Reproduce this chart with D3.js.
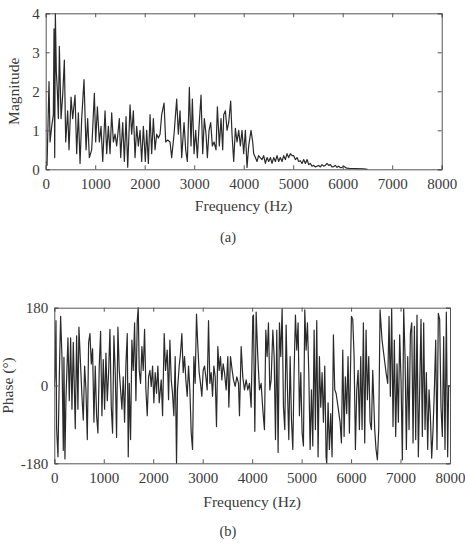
<!DOCTYPE html>
<html><head><meta charset="utf-8">
<script src="https://cdn.jsdelivr.net/npm/d3@7"></script>
<style>
body{margin:0;background:#fff;}
text{font-family:"Liberation Serif","DejaVu Serif",serif;fill:#3a3a3a;}
</style></head>
<body><svg id="c" width="465" height="551"></svg>
<script>
// ---------- data ----------
const xTicks = [0,1000,2000,3000,4000,5000,6000,7000,8000];
const magTicks = [0,1,2,3,4];
const phaseTicks = [-180,0,180];

const magFreq = [0,27,67,88,121,155,168,182,195,215,236,256,276,310,343,377,404,444,471,512,545,593,626,660,694,727,774,815,848,882,929,983,1010,1044,1084,1118,1152,1199,1232,1266,1300,1333,1367,1401,1434,1488,1515,1556,1589,1623,1657,1704,1737,1771,1805,1838,1872,1906,1939,1973,2013,2040,2074,2108,2141,2175,2209,2242,2276,2310,2343,2391,2424,2465,2512,2545,2593,2646,2680,2714,2747,2795,2828,2862,2902,2936,2963,2997,3030,3064,3098,3138,3172,3205,3239,3266,3300,3333,3367,3401,3441,3468,3508,3542,3576,3596,3630,3663,3697,3737,3764,3798,3832,3865,3899,3933,3966,4000,4034,4067,4101,4148,4182,4202,4236,4269,4300,4333,4370,4404,4438,4471,4505,4540,4572,4606,4640,4673,4707,4740,4775,4808,4842,4875,4909,4943,4976,5010,5044,5077,5111,5145,5178,5212,5246,5280,5313,5347,5380,5414,5448,5481,5515,5549,5582,5616,5650,5683,5717,5750,5784,5818,5851,5885,5918,5952,5986,6020,6080,6150,6250,6424,6500];
const magVal = [0.2,0.1,2.25,0.7,1.1,1.4,3.6,0.3,4.0,2.5,2.0,1.3,3.15,1.3,1.9,2.8,0.7,1.5,0.5,1.85,1.3,1.9,0.4,1.45,0.15,1.3,2.3,0.5,1.3,0.3,0.5,1.95,0.7,1.6,0.7,1.1,0.2,1.5,0.4,1.1,0.4,1.45,0.7,0.9,0.6,1.3,0.3,1.2,0.2,1.35,0.05,1.65,0.9,1.5,0.3,1.1,0.6,1.0,0.2,1.1,0.2,1.0,0.15,1.4,0.4,1.3,0.5,0.9,0.8,0.9,1.4,1.7,0.7,0.75,0.7,0.3,0.9,1.8,0.9,1.5,0.3,1.2,0.5,0.2,2.1,0.6,1.8,0.4,1.0,0.3,1.1,1.9,0.4,1.3,0.9,0.3,1.0,1.2,0.6,0.7,0.5,1.6,0.6,1.3,0.5,1.4,1.5,1.0,1.2,1.75,0.9,0.2,1.05,0.7,1.0,0.6,1.0,0.4,1.0,0.05,0.6,1.0,0.7,0.4,0.3,0.2,0.35,0.3,0.25,0.35,0.15,0.3,0.2,0.3,0.15,0.3,0.2,0.35,0.2,0.3,0.2,0.35,0.25,0.4,0.3,0.4,0.35,0.35,0.25,0.3,0.2,0.22,0.15,0.25,0.15,0.25,0.12,0.15,0.08,0.1,0.06,0.08,0.1,0.06,0.12,0.08,0.1,0.15,0.1,0.12,0.06,0.07,0.1,0.05,0.08,0.04,0.05,0.08,0.03,0.02,0.02,0.01,0];

const phFreq = [0,13,34,47,74,101,128,155,182,195,215,236,276,303,330,357,384,424,451,478,498,532,559,586,613,640,667,694,721,748,774,801,828,855,882,909,936,963,990,1017,1044,1071,1098,1125,1152,1178,1205,1232,1259,1286,1313,1340,1367,1394,1421,1448,1475,1495,1515,1542,1569,1596,1623,1650,1677,1697,1717,1744,1771,1798,1825,1852,1879,1906,1933,1960,1987,2013,2040,2067,2094,2121,2162,2189,2222,2249,2283,2310,2337,2364,2390,2417,2444,2471,2491,2525,2552,2579,2606,2633,2660,2687,2714,2741,2768,2795,2822,2848,2875,2902,2929,2956,2983,3010,3037,3064,3091,3118,3145,3172,3199,3226,3253,3279,3306,3333,3360,3387,3414,3441,3475,3508,3529,3562,3596,3623,3657,3690,3724,3744,3778,3811,3845,3879,3912,3946,3980,4013,4027,4054,4081,4114,4148,4182,4215,4249,4276,4303,4330,4357,4384,4418,4445,4472,4498,4525,4552,4579,4606,4633,4660,4687,4714,4741,4768,4795,4822,4848,4875,4902,4929,4956,4983,5010,5037,5064,5091,5118,5145,5172,5199,5226,5253,5279,5306,5333,5360,5387,5414,5441,5468,5495,5508,5535,5562,5589,5616,5643,5670,5697,5737,5778,5805,5832,5859,5885,5912,5939,5966,6007,6034,6061,6088,6115,6142,6168,6195,6222,6249,6276,6303,6330,6357,6384,6411,6438,6478,6505,6532,6559,6586,6626,6667,6707,6741,6768,6794,6821,6848,6875,6902,6929,6956,6983,7010,7037,7064,7091,7118,7145,7172,7199,7226,7253,7280,7307,7333,7360,7387,7414,7441,7468,7495,7522,7549,7576,7603,7630,7657,7684,7711,7737,7764,7791,7818,7845,7872,7899,7926,7953,7973,8000];
const phVal = [0,20,150,-100,-165,20,160,65,-150,65,-170,-30,110,-35,110,-55,100,-100,115,-55,135,45,-25,-80,45,-10,-125,100,120,50,85,-85,45,-70,-110,45,125,-70,60,-55,75,-35,30,130,-50,-110,115,30,-120,135,35,-10,-55,20,-85,50,120,-165,5,-125,105,35,145,-35,150,180,35,5,90,35,130,-10,-70,20,35,-2,45,-40,30,-18,45,-40,13,-70,120,35,82,-33,105,13,-18,-70,67,-180,-10,45,75,120,30,67,13,-25,45,-10,-110,-148,67,5,165,90,30,5,-25,35,45,20,-10,150,5,30,-25,45,20,-95,90,35,67,13,50,30,-10,67,-50,67,35,13,-2,20,5,-70,90,20,-10,13,-10,5,-50,160,163,-106,170,67,-10,5,-55,-102,128,67,145,-10,13,128,67,-125,128,-155,145,67,178,-50,-102,140,-10,-125,67,-80,-148,30,163,82,145,-70,30,-110,-140,175,82,145,30,-148,-10,-140,128,-102,150,-165,67,-50,30,-85,45,-165,-180,-40,-148,-65,-165,117,-10,-18,-50,-85,-133,82,-118,20,-65,67,-110,160,153,67,-148,-10,35,-102,67,-102,145,-133,128,-33,67,-85,-102,35,-102,-148,-172,-102,175,105,67,30,5,160,-25,178,-95,105,-118,50,-85,117,13,-172,178,67,-148,67,-102,120,145,-133,137,-125,163,-165,-10,153,-118,145,-102,30,-148,-10,-70,-168,-102,-10,105,-148,167,153,-50,-118,113,-148,170,-165,0,-2];

// ---------- drawing ----------
const svg = d3.select("#c");
const axisColor = "#555";
const lineColor = "#2a2a2a";
const plainFmt = d => String(d);

function panel(cfg){
  const {left,right,top,bottom,yDomain,yTicks,xs,ys,yLabel,yLabelX,letter,letterY,xLabelY,id} = cfg;
  const x = d3.scaleLinear().domain([0,8000]).range([left,right]);
  const y = d3.scaleLinear().domain(yDomain).range([bottom,top]);
  const g = svg.append("g");
  g.append("clipPath").attr("id",id).append("rect")
    .attr("x",left).attr("y",top-0.5).attr("width",right-left).attr("height",bottom-top+1);
  const data = xs.map((f,i)=>[f,ys[i]]);
  g.append("path").datum(data)
    .attr("clip-path",`url(#${id})`)
    .attr("fill","none").attr("stroke",lineColor).attr("stroke-width",1.2)
    .attr("stroke-linejoin","round")
    .attr("d",d3.line().x(d=>x(d[0])).y(d=>y(d[1])));
  const ax = [
    [d3.axisBottom(x).tickValues(xTicks).tickSize(-4).tickPadding(9).tickFormat(plainFmt), `translate(0,${bottom})`],
    [d3.axisTop(x).tickValues(xTicks).tickSize(-4).tickFormat(""), `translate(0,${top})`],
    [d3.axisLeft(y).tickValues(yTicks).tickSize(-4).tickPadding(6).tickFormat(plainFmt), `translate(${left},0)`],
    [d3.axisRight(y).tickValues(yTicks).tickSize(-4).tickFormat(""), `translate(${right},0)`]
  ];
  ax.forEach(([a,t])=>{
    const ag = g.append("g").attr("transform",t).call(a);
    ag.select(".domain").attr("stroke",axisColor).attr("stroke-width",1);
    ag.selectAll(".tick line").attr("stroke",axisColor);
    ag.selectAll(".tick text").style("font-size","15px").attr("fill","#3a3a3a");
  });
  g.append("text").attr("x",(left+right)/2).attr("y",xLabelY)
    .attr("text-anchor","middle").style("font-size","15.5px").text("Frequency (Hz)");
  g.append("text").attr("transform",`translate(${yLabelX},${(top+bottom)/2}) rotate(-90)`)
    .attr("text-anchor","middle").style("font-size","15.5px").text(yLabel);
  g.append("text").attr("x",228).attr("y",letterY)
    .attr("text-anchor","middle").style("font-size","14.5px").text(letter);
}

panel({id:"ca",left:45.7,right:441.7,top:13.3,bottom:169.3,yDomain:[0,4],yTicks:magTicks,
  xs:magFreq,ys:magVal,yLabel:"Magnitude",yLabelX:19,letter:"(a)",letterY:242,xLabelY:211});
panel({id:"cb",left:54.3,right:450,top:307.7,bottom:463.3,yDomain:[-180,180],yTicks:phaseTicks,
  xs:phFreq,ys:phVal,yLabel:"Phase (°)",yLabelX:13,letter:"(b)",letterY:536,xLabelY:507});
</script></body></html>
